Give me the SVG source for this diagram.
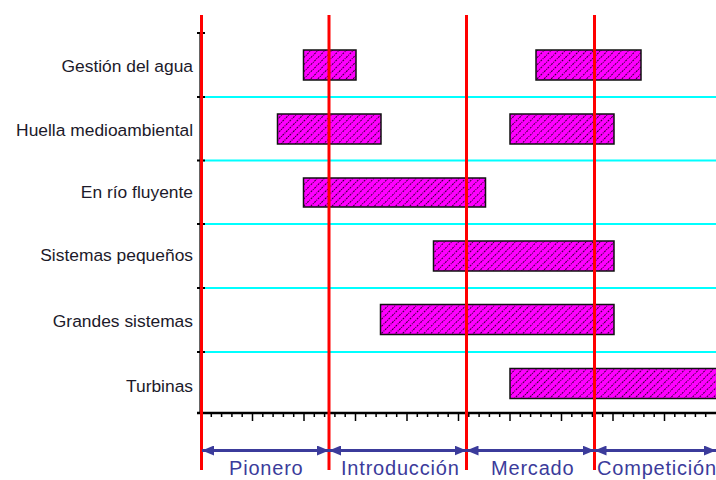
<svg xmlns="http://www.w3.org/2000/svg" width="716" height="480" viewBox="0 0 716 480">
<style>
.lbl{font-family:"Liberation Sans",Arial,sans-serif;font-size:17.4px;fill:#1c1a2a;text-anchor:end}
.ph{font-family:"Liberation Sans",Arial,sans-serif;font-size:20px;letter-spacing:0.8px;fill:#3b3b9b}
.bar{fill:url(#hatch);stroke:#111;stroke-width:1.5}
.red{stroke:#ff0000;stroke-width:3}
.cyan{stroke:#00ffff;stroke-width:2}
.tick{stroke:#000;stroke-width:1.5}
.arr{stroke:#3b3b9b;stroke-width:3;fill:none;marker-start:url(#ah);marker-end:url(#ah)}
</style>
<defs>
<pattern id="hatch" patternUnits="userSpaceOnUse" width="5" height="5" patternTransform="rotate(45)">
<rect width="5" height="5" fill="#ff00ff"/>
<line x1="0.5" y1="0" x2="0.5" y2="5" stroke="#000" stroke-width="0.8" stroke-dasharray="1 1"/>
</pattern>
<marker id="ah" viewBox="0 0 12 10" refX="12" refY="5" markerWidth="12" markerHeight="10" markerUnits="userSpaceOnUse" orient="auto-start-reverse">
<path d="M0,0 L12,5 L0,10 z" fill="#3b3b9b"/>
</marker>
</defs>
<rect width="716" height="480" fill="#fff"/>

<g id="grid">
<line class="cyan" x1="201" y1="97" x2="716" y2="97"/>
<line class="cyan" x1="201" y1="160.5" x2="716" y2="160.5"/>
<line class="cyan" x1="201" y1="224" x2="716" y2="224"/>
<line class="cyan" x1="201" y1="288" x2="716" y2="288"/>
<line class="cyan" x1="201" y1="352" x2="716" y2="352"/>
<line x1="200" y1="33" x2="200" y2="413" stroke="#333" stroke-width="1.5"/>
<g class="tick">
<line x1="197" y1="33" x2="205" y2="33" stroke-width="2"/>
<line x1="197" y1="97" x2="205" y2="97" stroke-width="2"/>
<line x1="197" y1="160.5" x2="205" y2="160.5" stroke-width="2"/>
<line x1="197" y1="224" x2="205" y2="224" stroke-width="2"/>
<line x1="197" y1="288" x2="205" y2="288" stroke-width="2"/>
<line x1="197" y1="352" x2="205" y2="352" stroke-width="2"/>
</g>
</g>

<g id="axis">
<line x1="197" y1="413" x2="716" y2="413" stroke="#000" stroke-width="2.5"/>
<path class="tick" d="M211.3,413v4M221.6,413v4M231.9,413v4M242.2,413v4M252.5,413v8M262.8,413v4M273.1,413v4M283.4,413v4M293.7,413v4M304,413v8M314.3,413v4M324.6,413v4M334.9,413v4M345.2,413v4M355.5,413v8M365.8,413v4M376.1,413v4M386.4,413v4M396.7,413v4M407,413v8M417.3,413v4M427.6,413v4M437.9,413v4M448.2,413v4M458.5,413v8M468.8,413v4M479.1,413v4M489.4,413v4M499.7,413v4M510,413v8M520.3,413v4M530.6,413v4M540.9,413v4M551.2,413v4M561.5,413v8M571.8,413v4M582.1,413v4M592.4,413v4M602.7,413v4M613,413v8M623.3,413v4M633.6,413v4M643.9,413v4M654.2,413v4M664.5,413v8M674.8,413v4M685.1,413v4M695.4,413v4M705.7,413v4"/>
</g>

<g id="row-gestion">
<text class="lbl" x="193" y="72">Gestión del agua</text>
<rect class="bar" x="303.5" y="50" width="52.5" height="30"/>
<rect class="bar" x="536" y="50" width="105" height="30"/>
</g>
<g id="row-huella">
<text class="lbl" x="193" y="135.5">Huella medioambiental</text>
<rect class="bar" x="277.5" y="114" width="103.5" height="30"/>
<rect class="bar" x="510" y="114" width="104" height="30"/>
</g>
<g id="row-rio">
<text class="lbl" x="193" y="198">En río fluyente</text>
<rect class="bar" x="303.5" y="178" width="182" height="29"/>
</g>
<g id="row-pequenos">
<text class="lbl" x="193" y="261">Sistemas pequeños</text>
<rect class="bar" x="433.5" y="241" width="180.5" height="30"/>
</g>
<g id="row-grandes">
<text class="lbl" x="193" y="327">Grandes sistemas</text>
<rect class="bar" x="380.5" y="304.5" width="233.5" height="30"/>
</g>
<g id="row-turbinas">
<text class="lbl" x="193" y="392">Turbinas</text>
<rect class="bar" x="510" y="368.5" width="210" height="30"/>
</g>

<g id="phases">
<line class="red" x1="201.5" y1="15" x2="201.5" y2="470"/>
<line class="red" x1="329" y1="15" x2="329" y2="470"/>
<line class="red" x1="466.5" y1="15" x2="466.5" y2="470"/>
<line class="red" x1="594.5" y1="15" x2="594.5" y2="470"/>
</g>

<g id="connectors">
<line class="arr" x1="202" y1="450.5" x2="329" y2="450.5"/>
<line class="arr" x1="329" y1="450.5" x2="466.5" y2="450.5"/>
<line class="arr" x1="466.5" y1="450.5" x2="594.5" y2="450.5"/>
<line class="arr" x1="594.5" y1="450.5" x2="716" y2="450.5"/>
</g>

<g id="phase-labels">
<text class="ph" x="229" y="475">Pionero</text>
<text class="ph" x="341" y="475">Introducción</text>
<text class="ph" x="491" y="475">Mercado</text>
<text class="ph" x="597" y="475">Competición</text>
</g>
</svg>
